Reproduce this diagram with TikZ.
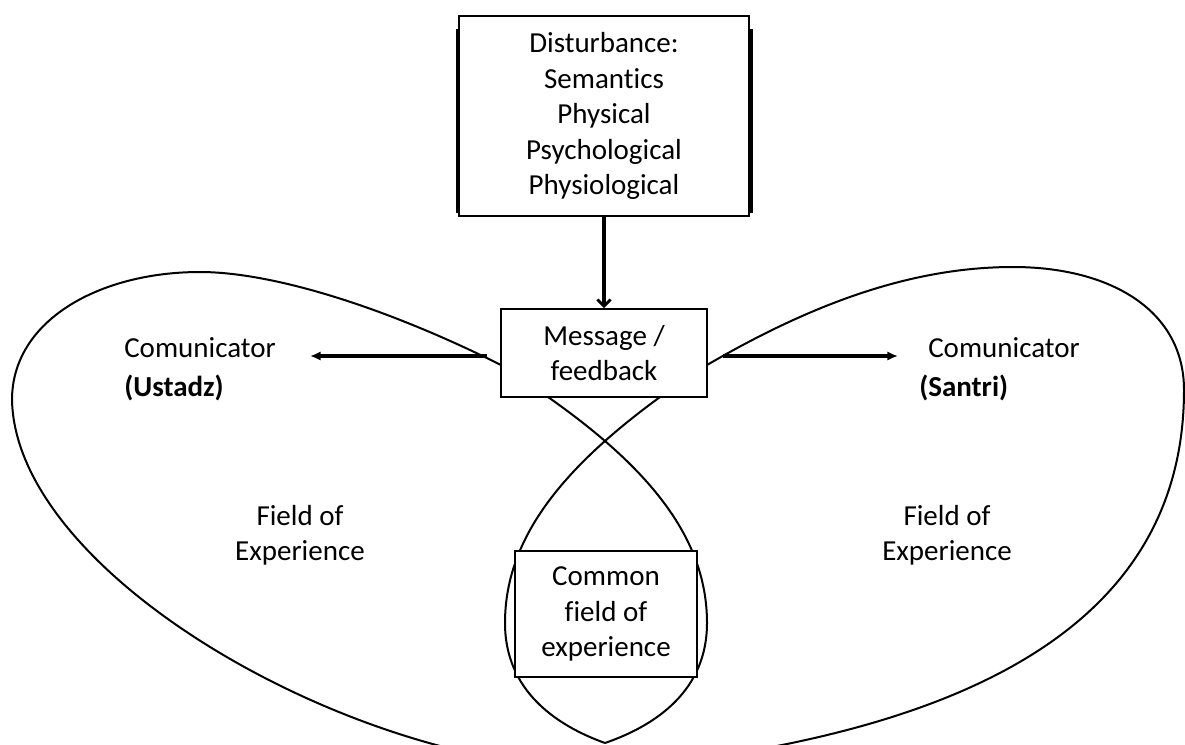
\documentclass[tikz,border=0pt]{standalone}
\usepackage{fontspec}
\setmainfont{Carlito}[Ligatures=NoCommon]
\usetikzlibrary{arrows.meta}
\begin{document}
\begin{tikzpicture}[x=0.75pt,y=-0.75pt,
  box/.style={draw,line width=1.5pt,align=center,inner sep=0pt,
    font=\fontsize{21.75pt}{26.6pt}\selectfont},
  txt/.style={align=center,inner sep=0pt,font=\fontsize{21.75pt}{26.6pt}\selectfont},
  loopline/.style={line width=1.5pt,line join=round},
  harrow/.style={line width=2.3pt,-{Latex[length=8pt,width=7pt]}},
  varrow/.style={line width=2.4pt,-{Straight Barb[length=5pt,width=10pt,line width=2pt]}}]
\useasboundingbox (0,0) rectangle (1185,744);
\fill[white] (0,0) rectangle (1185,744);

% boxes
\node[box,minimum width=290*0.75pt,minimum height=200*0.75pt] (dist) at (604,116)
  {Disturbance:\\Semantics\\Physical\\Psychological\\Physiological};
\draw[line width=1.6pt] (457.5,29) -- (457.5,213);
\draw[line width=1.6pt] (751.5,29) -- (751.5,213);
\node[box,minimum width=206*0.75pt,minimum height=88*0.75pt] (msg) at (604,353)
  {Message /\\feedback};

% loops
\begin{scope}
\clip (0,0) rectangle (1185,744);
\draw[loopline] (501,365) .. controls (381,305) and (270,272) .. (200,272)
  .. controls (100,272) and (12,320) .. (12,400)
  .. controls (15,540) and (230,690) .. (440,746) -- (480,757);
\draw[loopline] (707,365) .. controls (810,305) and (910,267) .. (1013,267)
  .. controls (1110,267) and (1184,310) .. (1184,390)
  .. controls (1184,600) and (1010,700) .. (777,746) -- (740,754);
\draw[loopline] (660,397) .. controls (560,470) and (505,540) .. (505,623)
  .. controls (505,690) and (555,725) .. (605,743);
\draw[loopline] (548,397) .. controls (652,470) and (707,540) .. (707,623)
  .. controls (707,690) and (657,725) .. (605,743);
\end{scope}

\node[box,fill=white,minimum width=182*0.75pt,minimum height=126*0.75pt] (common) at (606,614)
  {Common\\field of\\experience};

% arrows
\draw[varrow] (dist.south) -- (msg.north);
\coordinate (lstart) at (487,356);
\coordinate (lend) at (310,356);
\coordinate (rstart) at (723,356);
\coordinate (rend) at (898,356);
\draw[harrow] (lstart) -- (lend);
\draw[harrow] (rstart) -- (rend);

% labels
\node[txt,anchor=west] (lcom) at (124,348) {Comunicator};
\node[txt,anchor=west] (lust) at (124,388) {\bfseries (Ustadz)};
\node[txt,anchor=west] (rcom) at (928,348) {Comunicator};
\node[txt,anchor=west] (rsan) at (919,388) {\bfseries (Santri)};
\node[txt] (lfield) at (300,535) {Field of\\Experience};
\node[txt] (rfield) at (947,535) {Field of\\Experience};
\end{tikzpicture}
\end{document}
